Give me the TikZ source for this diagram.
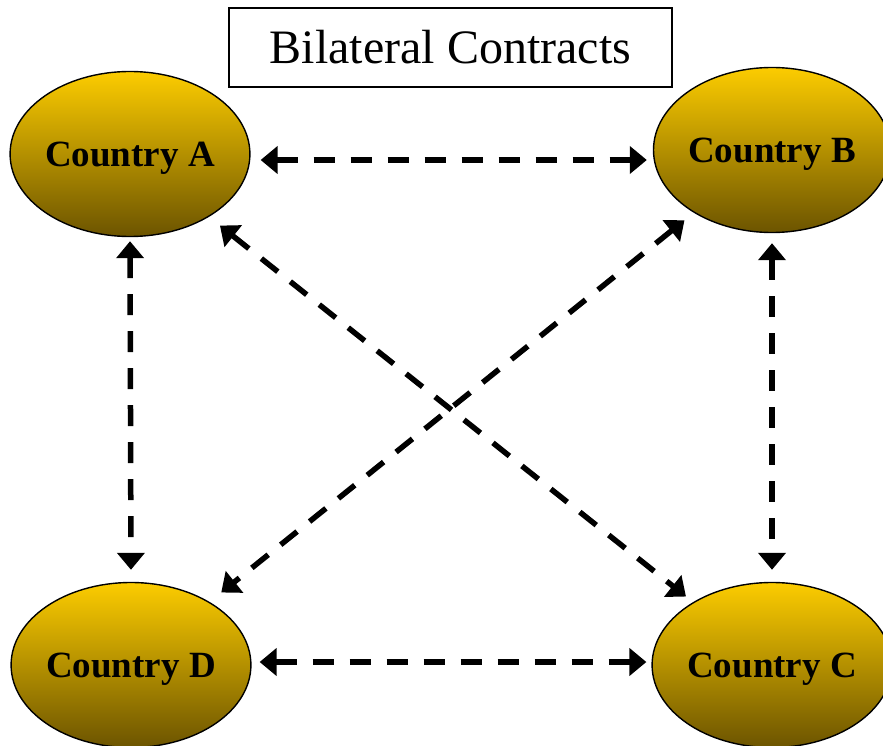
\documentclass[tikz,border=0pt]{standalone}
\usepackage{fontspec}
\setmainfont{Liberation Serif}
\usetikzlibrary{shapes.geometric,arrows.meta}
\definecolor{goldtop}{RGB}{252,204,0}
\definecolor{goldbot}{RGB}{108,84,0}
\begin{document}
\begin{tikzpicture}[x=1pt,y=-1pt,
  country/.style={ellipse, draw=black, line width=1.4pt, minimum width=237pt, minimum height=165pt,
    inner sep=0pt, top color=goldtop, bottom color=goldbot, text depth=0pt,
    font=\fontsize{37}{40}\selectfont\bfseries},
  titlebox/.style={draw=black, line width=1.4pt, fill=white, minimum width=443pt, minimum height=79pt,
    inner sep=0pt, font=\fontsize{48}{52}\selectfont},
  link/.style={line width=5.5pt, dash pattern=on 21pt off 16pt,
    {Triangle[length=17pt,width=27pt]}-{Triangle[length=17pt,width=27pt]}},
]
\useasboundingbox (0,0) rectangle (883,746);
\fill[white] (0,0) rectangle (883,746);

\node[titlebox] (T) at (450.5,47.5) {Bilateral Contracts};

\node[country] (A) at (130,154) {Country A};
\node[country] (B) at (772,150) {Country B};
\node[country] (D) at (131,665) {Country D};
\node[country] (C) at (772,665) {Country C};

\draw[link, shorten <=10pt, shorten >=6pt] ([yshift=-6pt]A.east) -- ([yshift=-10pt]B.west);
\draw[link, shorten <=8pt, shorten >=5pt] ([yshift=3pt]D.east) -- ([yshift=3pt]C.west);
\draw[link, shorten <=4pt, shorten >=12pt] (A.south) -- (D.north);
\draw[link, shorten <=10pt, shorten >=12pt] (B.south) -- (C.north);
\draw[link, shorten <=14pt, shorten >=9pt] (A) -- (C);
\draw[link, shorten <=12pt, shorten >=15pt] (B) -- (D);
\end{tikzpicture}
\end{document}
